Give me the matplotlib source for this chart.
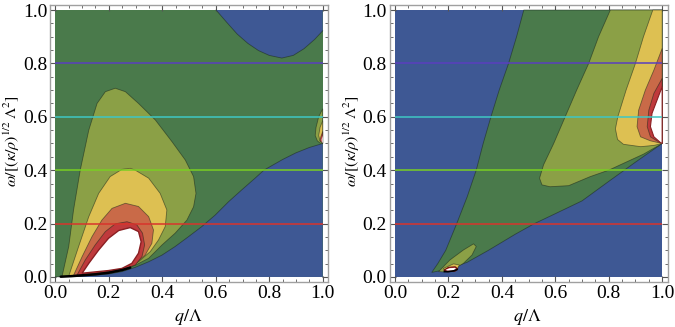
import matplotlib
matplotlib.use("Agg")
import matplotlib.pyplot as plt
from matplotlib.ticker import MultipleLocator

plt.rcParams['mathtext.fontset'] = 'stix'
plt.rcParams['font.family'] = ['Liberation Serif', 'DejaVu Serif']

# ---------------- data: region boundaries ----------------
# Left panel
L_blue_low_q = [0, 0.037, 0.1, 0.149, 0.199, 0.249, 0.299, 0.349, 0.399, 0.448, 0.498, 0.548,
                0.598, 0.648, 0.697, 0.747, 0.78, 0.85, 0.9, 0.95, 1.0]
L_blue_low_w = [0, 0.001, 0.004, 0.007, 0.011, 0.02, 0.036, 0.057, 0.082, 0.114, 0.151, 0.189,
                0.232, 0.282, 0.326, 0.37, 0.40, 0.44, 0.465, 0.485, 0.5]
L_blue_top_q = [0.601, 0.64, 0.68, 0.72, 0.76, 0.8, 0.847, 0.89, 0.93, 0.97, 1.0]
L_blue_top_w = [1.0, 0.955, 0.91, 0.875, 0.848, 0.83, 0.82, 0.83, 0.855, 0.89, 0.922]

L_olive_q = [0.025, 0.05, 0.068, 0.093, 0.125, 0.156, 0.187, 0.224, 0.262, 0.311, 0.374, 0.436,
             0.486, 0.517, 0.526, 0.517, 0.492, 0.448, 0.399, 0.349, 0.299, 0.249, 0.187, 0.125, 0.062]
L_olive_w = [0.002, 0.114, 0.251, 0.40, 0.55, 0.65, 0.694, 0.707, 0.694, 0.65, 0.588, 0.507,
             0.438, 0.376, 0.313, 0.263, 0.213, 0.164, 0.12, 0.07, 0.044, 0.025, 0.014, 0.007, 0.004]
L_yellow_q = [0.05, 0.087, 0.125, 0.162, 0.205, 0.249, 0.28, 0.299, 0.349, 0.392, 0.417, 0.411,
              0.386, 0.355, 0.311, 0.262, 0.187, 0.125, 0.07]
L_yellow_w = [0.003, 0.114, 0.226, 0.313, 0.376, 0.403, 0.407, 0.40, 0.37, 0.313, 0.251, 0.189,
              0.139, 0.095, 0.057, 0.034, 0.017, 0.009, 0.005]
L_orange_q = [0.068, 0.1, 0.137, 0.174, 0.212, 0.262, 0.311, 0.349, 0.367, 0.361, 0.336, 0.299,
              0.249, 0.187, 0.125, 0.08]
L_orange_w = [0.006, 0.076, 0.151, 0.213, 0.257, 0.276, 0.264, 0.226, 0.176, 0.126, 0.082, 0.049,
              0.028, 0.017, 0.010, 0.007]
L_red_q = [0.081, 0.112, 0.149, 0.187, 0.224, 0.268, 0.305, 0.326, 0.334, 0.324, 0.299, 0.249, 0.187, 0.12]
L_red_w = [0.007, 0.064, 0.12, 0.17, 0.199, 0.207, 0.195, 0.164, 0.12, 0.076, 0.045, 0.027, 0.018, 0.010]
L_white_q = [0.1, 0.125, 0.162, 0.199, 0.237, 0.28, 0.311, 0.321, 0.311, 0.286, 0.249, 0.199, 0.149]
L_white_w = [0.014, 0.051, 0.101, 0.145, 0.174, 0.185, 0.17, 0.132, 0.089, 0.051, 0.032, 0.024, 0.019]
L_black_q = [0.02, 0.06, 0.1, 0.15, 0.2, 0.25, 0.28]
L_black_w = [0.001, 0.003, 0.006, 0.01, 0.016, 0.026, 0.035]

L_edge_olive_q = [1.0, 0.985, 0.975, 0.972, 0.98, 0.99, 1.0]
L_edge_olive_w = [0.63, 0.6, 0.56, 0.53, 0.51, 0.502, 0.5]
L_edge_yellow_q = [1.0, 0.99, 0.985, 0.99, 1.0]
L_edge_yellow_w = [0.585, 0.56, 0.53, 0.51, 0.502]
L_edge_red_q = [1.0, 0.993, 0.99, 1.0]
L_edge_red_w = [0.545, 0.525, 0.51, 0.502]
L_edge_white_q = [1.0, 0.996, 0.997, 1.0]
L_edge_white_w = [0.53, 0.515, 0.505, 0.502]

# Right panel
R_green_left_q = [0.1375, 0.16, 0.19, 0.231, 0.27, 0.304, 0.33, 0.359, 0.39, 0.425, 0.455, 0.482]
R_green_left_w = [0.017, 0.05, 0.1, 0.2, 0.3, 0.4, 0.5, 0.6, 0.7, 0.8, 0.9, 1.0]
R_green_low_q = [0.1375, 0.2, 0.27, 0.35, 0.45, 0.52, 0.6, 0.7, 0.8, 0.9, 1.0]
R_green_low_w = [0.017, 0.03, 0.055, 0.1, 0.16, 0.199, 0.237, 0.285, 0.358, 0.43, 0.5]
R_olive_q = [0.806, 0.762, 0.725, 0.68, 0.637, 0.594, 0.556, 0.541, 0.55, 0.58, 0.65, 0.731,
             0.8, 0.856, 0.93, 1.0, 1.0]
R_olive_w = [1.0, 0.9, 0.8, 0.7, 0.6, 0.5, 0.42, 0.37, 0.345, 0.338, 0.342, 0.376,
             0.4, 0.426, 0.46, 0.5, 1.0]
R_yellow_q = [0.965, 0.93, 0.90, 0.865, 0.834, 0.825, 0.833, 0.855, 0.92, 0.97, 1.0, 1.0]
R_yellow_w = [1.0, 0.9, 0.8, 0.7, 0.6, 0.555, 0.515, 0.497, 0.488, 0.493, 0.5, 1.0]
R_orange_q = [1.0, 0.969, 0.937, 0.912, 0.906, 0.919, 0.956, 1.0]
R_orange_w = [0.856, 0.775, 0.70, 0.625, 0.563, 0.525, 0.51, 0.5]
R_red_q = [1.0, 0.969, 0.95, 0.944, 0.956, 0.987, 1.0]
R_red_w = [0.744, 0.688, 0.625, 0.563, 0.525, 0.506, 0.5]
R_white_q = [1.0, 0.981, 0.962, 0.956, 0.969, 0.994, 1.0]
R_white_w = [0.713, 0.663, 0.613, 0.563, 0.525, 0.503, 0.5]

R_small_olive_q = [0.163, 0.206, 0.256, 0.294, 0.304, 0.288, 0.256, 0.219, 0.181]
R_small_olive_w = [0.02, 0.064, 0.101, 0.124, 0.114, 0.082, 0.051, 0.029, 0.019]
R_small_yellow_q = [0.181, 0.219, 0.241, 0.231, 0.194]
R_small_yellow_w = [0.032, 0.049, 0.045, 0.026, 0.019]
R_small_red_q = [0.183, 0.2, 0.225, 0.235, 0.225, 0.195]
R_small_red_w = [0.025, 0.036, 0.038, 0.03, 0.022, 0.02]
R_small_white_q = [0.19, 0.205, 0.225, 0.228, 0.215, 0.195]
R_small_white_w = [0.027, 0.033, 0.034, 0.029, 0.024, 0.024]
R_small_black_q = [0.185, 0.2, 0.22, 0.232]
R_small_black_w = [0.02, 0.02, 0.023, 0.028]

# Reference frequency lines
omega_levels = [0.2, 0.4, 0.6, 0.8]
omega_colors = ['#d8342c', '#79cf22', '#3fc7c4', '#5a3fbf']

ticks = [0.0, 0.2, 0.4, 0.6, 0.8, 1.0]
tick_labels = ['0.0', '0.2', '0.4', '0.6', '0.8', '1.0']
xlabel = r'$q/\Lambda$'
ylabel = r'$\omega/[(\kappa/\rho)^{1/2}\,\Lambda^2]$'

# ---------------- styling ----------------
C_BLUE = '#3e5894'
C_GREEN = '#4a7a4b'
C_OLIVE = '#8ba046'
C_YELLOW = '#ddc052'
C_ORANGE = '#c96a48'
C_RED = '#bf3a3c'
C_WHITE = '#ffffff'
EDGE = (0.1, 0.15, 0.1, 0.55)
LW = 0.6
SERIF = ['Liberation Serif', 'DejaVu Serif']

fig = plt.figure(figsize=(6.75, 3.27), dpi=100)
axL = fig.add_axes([0.0741, 0.1367, 0.4119, 0.849])
axR = fig.add_axes([0.5773, 0.1367, 0.4116, 0.849])


def region(ax, q, w, color):
    ax.fill(q, w, facecolor=color, edgecolor=EDGE, linewidth=LW, zorder=2)


# Left panel
axL.fill_between([0, 1], 0, 1, color=C_GREEN, lw=0, zorder=1)
axL.fill_between(L_blue_low_q, 0, L_blue_low_w, facecolor=C_BLUE, lw=0, zorder=2)
axL.plot(L_blue_low_q, L_blue_low_w, color=EDGE, lw=LW, zorder=2)
axL.fill_between(L_blue_top_q, L_blue_top_w, 1, facecolor=C_BLUE, lw=0, zorder=2)
axL.plot(L_blue_top_q, L_blue_top_w, color=EDGE, lw=LW, zorder=2)
region(axL, L_olive_q, L_olive_w, C_OLIVE)
region(axL, L_yellow_q, L_yellow_w, C_YELLOW)
region(axL, L_orange_q, L_orange_w, C_ORANGE)
region(axL, L_red_q, L_red_w, C_RED)
axL.fill(L_white_q, L_white_w, facecolor=C_WHITE, edgecolor='#8a1f22', linewidth=1.0, zorder=2)
axL.plot(L_black_q, L_black_w, color='black', lw=1.8, solid_capstyle='round', zorder=3)
region(axL, L_edge_olive_q, L_edge_olive_w, C_OLIVE)
region(axL, L_edge_yellow_q, L_edge_yellow_w, C_YELLOW)
region(axL, L_edge_red_q, L_edge_red_w, C_RED)
axL.fill(L_edge_white_q, L_edge_white_w, facecolor=C_WHITE, lw=0, zorder=2)

# Right panel
axR.fill_between([0, 1], 0, 1, color=C_BLUE, lw=0, zorder=1)
g_q = R_green_left_q + [1.0, 1.0] + R_green_low_q[::-1]
g_w = R_green_left_w + [1.0, R_green_low_w[-1]] + R_green_low_w[::-1]
region(axR, g_q, g_w, C_GREEN)
region(axR, R_olive_q, R_olive_w, C_OLIVE)
region(axR, R_yellow_q, R_yellow_w, C_YELLOW)
region(axR, R_orange_q, R_orange_w, C_ORANGE)
region(axR, R_red_q, R_red_w, C_RED)
axR.fill(R_white_q, R_white_w, facecolor=C_WHITE, edgecolor='#8a1f22', linewidth=0.8, zorder=2)
region(axR, R_small_olive_q, R_small_olive_w, C_OLIVE)
region(axR, R_small_yellow_q, R_small_yellow_w, C_YELLOW)
axR.fill(R_small_red_q, R_small_red_w, facecolor=C_RED, edgecolor='#6a1010', linewidth=0.8, zorder=2)
axR.fill(R_small_white_q, R_small_white_w, facecolor=C_WHITE, lw=0, zorder=2)
axR.plot(R_small_black_q, R_small_black_w, color='black', lw=1.2, zorder=3)

for ax in (axL, axR):
    ax.hlines(omega_levels, 0, 1, colors=omega_colors, lw=1.1, zorder=4)
    ax.set_xlim(-0.02, 1.02)
    ax.set_ylim(-0.02, 1.02)
    ax.set_xticks(ticks)
    ax.set_xticklabels(tick_labels, fontfamily=SERIF, fontsize=14)
    ax.set_yticks(ticks)
    ax.set_yticklabels(tick_labels, fontfamily=SERIF, fontsize=14)
    ax.xaxis.set_minor_locator(MultipleLocator(0.05))
    ax.yaxis.set_minor_locator(MultipleLocator(0.05))
    ax.tick_params(which='both', direction='in', top=True, right=True, color='#555555', pad=2)
    ax.tick_params(which='major', length=4, width=0.8)
    ax.tick_params(which='minor', length=2.2, width=0.6)
    for s in ax.spines.values():
        s.set_color('#a0a0a0')
        s.set_linewidth(1.0)
    ax.set_xlabel(xlabel, fontsize=13)
    ax.set_ylabel(ylabel, fontsize=11.5)
    ax.xaxis.set_label_coords(0.496, -0.088)
    ax.yaxis.set_label_coords(-0.1, 0.51)

fig.savefig('out.png', dpi=100)
